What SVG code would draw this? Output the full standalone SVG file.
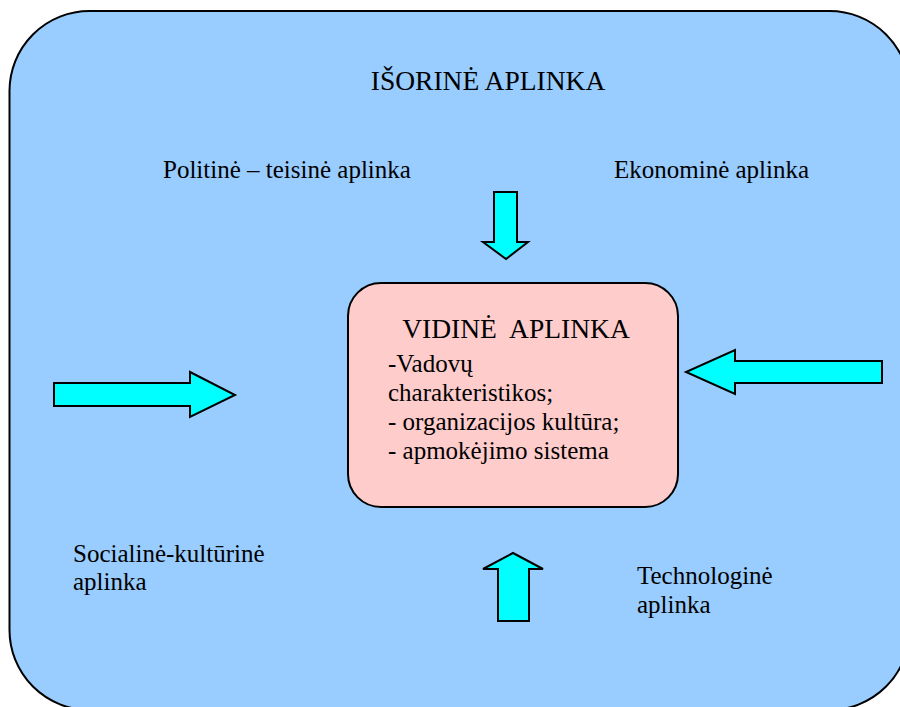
<svg xmlns="http://www.w3.org/2000/svg" width="900" height="707" viewBox="0 0 900 707">
<style>
text{font-family:"Liberation Serif","Times New Roman",Times,serif;fill:#000;}
.t{font-size:25px;}
.h{font-size:27.5px;}
.arr{fill:#00FFFF;stroke:#000;stroke-width:2;stroke-linejoin:miter;}
</style>
<rect width="900" height="707" fill="#fff"/>
<g id="outer">
<rect x="9.5" y="11" width="900" height="699" rx="80" ry="80" fill="#99CCFF" stroke="#000" stroke-width="2"/>
<text class="h" x="488" y="90" text-anchor="middle">IŠORINĖ APLINKA</text>
</g>
<g id="politine"><text class="t" x="163" y="178">Politinė – teisinė aplinka</text></g>
<g id="ekonomine"><text class="t" x="614" y="178">Ekonominė aplinka</text></g>
<g id="socialine"><text class="t" x="73" y="562">Socialinė-kultūrinė</text><text class="t" x="73" y="590">aplinka</text></g>
<g id="technologine"><text class="t" x="637" y="584">Technologinė</text><text class="t" x="637" y="613">aplinka</text></g>
<g id="vidine">
<rect x="348" y="283" width="330" height="224" rx="33" ry="33" fill="#FFCCCC" stroke="#000" stroke-width="2"/>
<text class="h" x="516" y="338" text-anchor="middle" xml:space="preserve">VIDINĖ  APLINKA</text>
<text class="t" x="388" y="372">-Vadovų</text>
<text class="t" x="388" y="401">charakteristikos;</text>
<text class="t" x="388" y="430">- organizacijos kultūra;</text>
<text class="t" x="388" y="459">- apmokėjimo sistema</text>
</g>
<g id="connectors">
<polygon class="arr" points="54,383 190,383 190,372 235,395 190,417 190,406 54,406"/>
<polygon class="arr" points="882,361 735,361 735,350 686,372 735,394 735,383 882,383"/>
<polygon class="arr" points="494,192 517,192 517,242 528,242 506,259 483,242 494,242"/>
<polygon class="arr" points="498,621 529,621 529,569 543,569 513,553 483,569 498,569"/>
</g>
</svg>
